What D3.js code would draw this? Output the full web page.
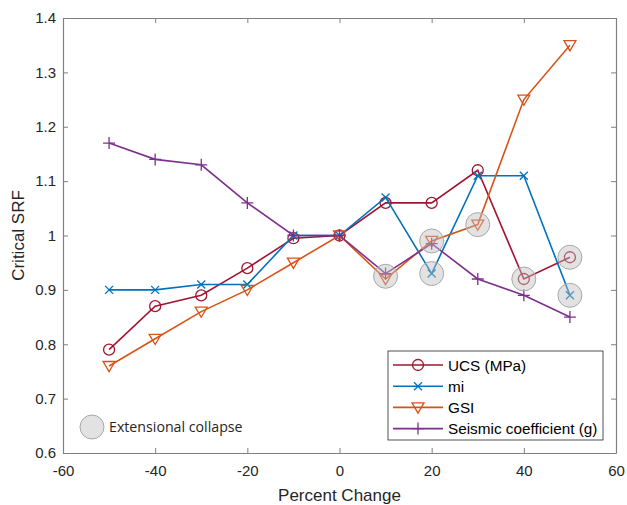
<!DOCTYPE html>
<html>
<head>
<meta charset="utf-8">
<script src="https://cdn.jsdelivr.net/npm/d3@7"></script>
<style>
  body { margin: 0; background: #fff; }
  svg { display: block; font-family: "Liberation Sans", Arial, sans-serif; }
</style>
</head>
<body>
<svg></svg>
<script>
;(() => {

    // percent change steps
    const percentChange = [-50, -40, -30, -20, -10, 0, 10, 20, 30, 40, 50];
    const ucsValues     = [0.79, 0.87, 0.89, 0.94, 0.995, 1.0, 1.06, 1.06, 1.12, 0.92, 0.96];
    const miValues      = [0.90, 0.90, 0.91, 0.91, 1.0, 1.0, 1.07, 0.93, 1.11, 1.11, 0.89];
    const gsiValues     = [0.76, 0.81, 0.86, 0.90, 0.95, 1.0, 0.92, 0.99, 1.02, 1.25, 1.35];
    const seismicValues = [1.17, 1.14, 1.13, 1.06, 1.0, 1.0, 0.93, 0.985, 0.92, 0.89, 0.85];
    const seriesNames   = ['UCS (MPa)', 'mi', 'GSI', 'Seismic coefficient (g)'];
    // points flagged as extensional collapse [x, y]
    const collapsePoints = [[10, 0.925], [20, 0.99], [20, 0.93], [30, 1.02], [40, 0.92], [50, 0.96], [50, 0.89]];
    const xTicks = [-60, -40, -20, 0, 20, 40, 60];
    const yTicks = [0.6, 0.7, 0.8, 0.9, 1, 1.1, 1.2, 1.3, 1.4];

    const width = 627, height = 505;
    const plot = { left: 63, right: 616, top: 18, bottom: 453 };

    const svg = d3.select('svg').attr('width', width).attr('height', height);

    const x = d3.scaleLinear().domain([-60, 60]).range([plot.left, plot.right]);
    const y = d3.scaleLinear().domain([0.6, 1.4]).range([plot.bottom, plot.top]);

    const series = [
        { name: seriesNames[0], values: ucsValues, color: '#A2142F', marker: 'circle' },
        { name: seriesNames[1], values: miValues, color: '#0072BD', marker: 'x' },
        { name: seriesNames[2], values: gsiValues, color: '#D95319', marker: 'tri' },
        { name: seriesNames[3], values: seismicValues, color: '#7E2F8E', marker: 'plus' }
    ];

    // axes (MATLAB style box with inward ticks)
    const axisColor = '#808080';
    // plain hyphen for negatives, like the original
    const fmt = (d) => String(+d.toFixed(1));

    const xAxis = svg.append('g').attr('transform', `translate(0,${plot.bottom})`)
        .call(d3.axisBottom(x).tickValues(xTicks).tickSizeInner(-5).tickSizeOuter(0).tickPadding(12).tickFormat(fmt));
    const xTop = svg.append('g').attr('transform', `translate(0,${plot.top})`)
        .call(d3.axisTop(x).tickValues(xTicks).tickSizeInner(-5).tickSizeOuter(0).tickFormat(''));
    const yAxis = svg.append('g').attr('transform', `translate(${plot.left},0)`)
        .call(d3.axisLeft(y).tickValues(yTicks).tickSizeInner(-5).tickSizeOuter(0).tickPadding(7).tickFormat(fmt));
    const yRight = svg.append('g').attr('transform', `translate(${plot.right},0)`)
        .call(d3.axisRight(y).tickValues(yTicks).tickSizeInner(-5).tickSizeOuter(0).tickFormat(''));

    [xAxis, xTop, yAxis, yRight].forEach((g) => {
        g.select('.domain').attr('stroke', axisColor).attr('stroke-width', 1.2);
        g.selectAll('.tick line').attr('stroke', axisColor);
        g.selectAll('.tick text').attr('fill', '#262626').style('font-size', '15px')
            .style('font-family', '"Liberation Sans", Arial, sans-serif');
    });

    svg.append('text')
        .attr('x', x(0)).attr('y', 501)
        .attr('text-anchor', 'middle')
        .attr('fill', '#262626').style('font-size', '17px')
        .text('Percent Change');
    svg.append('text')
        .attr('transform', `translate(24,${(plot.top + plot.bottom) / 2}) rotate(-90)`)
        .attr('text-anchor', 'middle')
        .attr('fill', '#262626').style('font-size', '17px')
        .text('Critical SRF');

    /**
      * draws one marker shape at (cx, cy)
      */
    function drawMarker(g, type, cx, cy, color) {
        if (type === 'circle') {
            g.append('circle').attr('cx', cx).attr('cy', cy).attr('r', 5.5)
                .attr('fill', 'none').attr('stroke', color).attr('stroke-width', 1.3);
        } else if (type === 'x') {
            const s = 4;
            g.append('path').attr('d', `M${cx - s},${cy - s}L${cx + s},${cy + s}M${cx - s},${cy + s}L${cx + s},${cy - s}`)
                .attr('stroke', color).attr('stroke-width', 1.3);
        } else if (type === 'tri') {
            const s = 6;
            g.append('path').attr('d', `M${cx - s},${cy - s * 0.75}L${cx + s},${cy - s * 0.75}L${cx},${cy + s * 0.95}Z`)
                .attr('fill', 'none').attr('stroke', color).attr('stroke-width', 1.3);
        } else {
            const s = 6;
            g.append('path').attr('d', `M${cx - s},${cy}L${cx + s},${cy}M${cx},${cy - s}L${cx},${cy + s}`)
                .attr('stroke', color).attr('stroke-width', 1.3);
        }
    }

    const line = d3.line().x((d) => x(d[0])).y((d) => y(d[1]));

    series.forEach((s) => {
        const pts = percentChange.map((p, i) => [p, s.values[i]]);
        const g = svg.append('g');
        g.append('path').attr('d', line(pts))
            .attr('fill', 'none').attr('stroke', s.color).attr('stroke-width', 1.6);
        pts.forEach((p) => drawMarker(g, s.marker, x(p[0]), y(p[1]), s.color));
    });

    // extensional collapse highlight circles
    svg.append('g').selectAll('circle')
        .data(collapsePoints)
        .enter()
        .append('circle')
        .attr('cx', (d) => x(d[0]))
        .attr('cy', (d) => y(d[1]))
        .attr('r', 12)
        .attr('fill', 'rgba(190,190,190,0.45)')
        .attr('stroke', '#a8a8a8')
        .attr('stroke-width', 1);

    // collapse key
    svg.append('circle').attr('cx', 92).attr('cy', 427).attr('r', 12)
        .attr('fill', 'rgba(190,190,190,0.45)').attr('stroke', '#a8a8a8');
    svg.append('text').attr('x', 109).attr('y', 432)
        .attr('fill', '#262626')
        .style('font-family', '"Open Sans", "Noto Sans", sans-serif').style('font-size', '14.2px')
        .text('Extensional collapse');

    // legend
    const legend = svg.append('g');
    legend.append('rect').attr('x', 388).attr('y', 351).attr('width', 215).attr('height', 89)
        .attr('fill', '#fff').attr('stroke', '#262626').attr('stroke-width', 0.8);
    series.forEach((s, i) => {
        const ly = 365 + i * 21.2;
        legend.append('line').attr('x1', 393).attr('x2', 443).attr('y1', ly).attr('y2', ly)
            .attr('stroke', s.color).attr('stroke-width', 1.6);
        drawMarker(legend, s.marker, 418, ly, s.color);
        legend.append('text').attr('x', 448).attr('y', ly + 5.5)
            .attr('fill', '#000').style('font-size', '15.3px')
            .text(s.name);
    });

})();
</script>
</body>
</html>
